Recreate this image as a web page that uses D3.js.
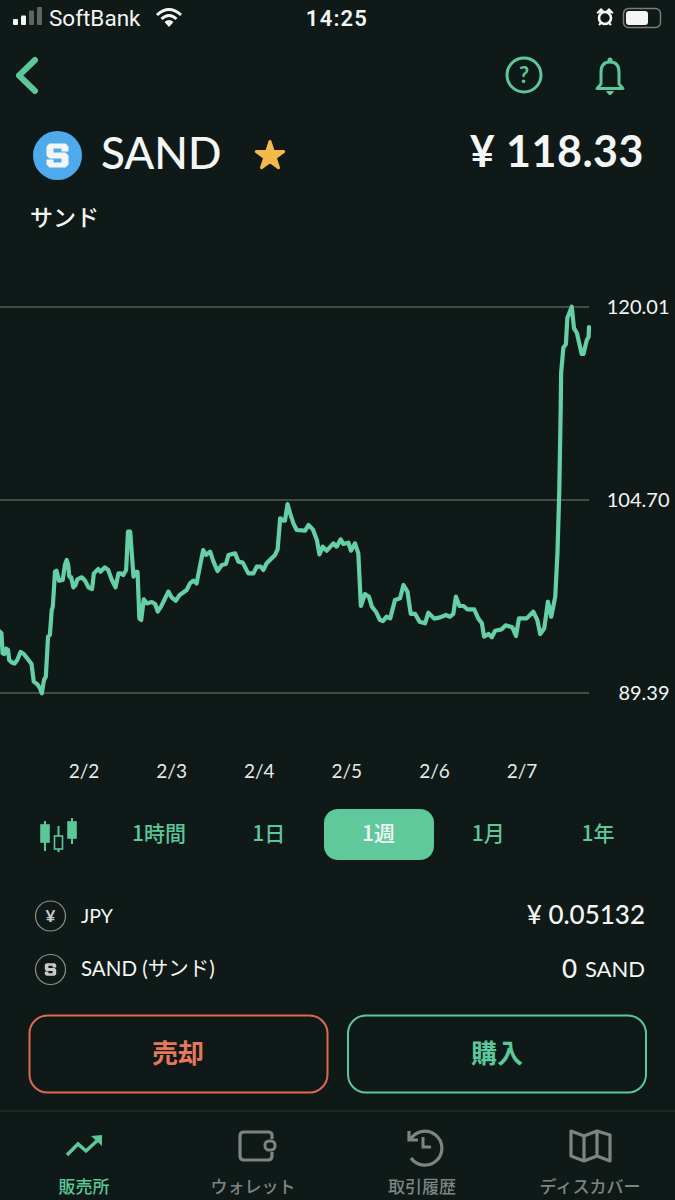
<!DOCTYPE html>
<html>
<head>
<meta charset="utf-8">
<script src="https://d3js.org/d3.v7.min.js"></script>
<style>
  html, body { margin: 0; padding: 0; background: #0f1917; }
  svg { display: block; }
  text { font-family: Lato, "Noto Sans CJK JP", sans-serif; }
  .jp { font-family: "Noto Sans CJK JP", sans-serif; }
</style>
</head>
<body>
<svg id="chart" width="675" height="1200"></svg>
<script>
// hours since 2/2 00:00
var hours = [-22.9,-22.5,-22.2,-21.7,-21.2,-20.7,-20.4,-19.6,-18.9,-18.2,-17.3,-16.4,-15.5,-14.3,-13.7,-12.7,-12.0,-11.5,-10.9,-10.4,
  -9.8,-9.3,-8.8,-8.5,-7.9,-7.5,-6.8,-5.8,-5.2,-4.7,-4.3,-4.0,-3.5,-2.9,-2.3,-1.8,-0.6,0.3,1.2,2.2,
  2.7,3.9,4.5,5.7,6.6,7.6,8.6,9.4,10.0,10.7,11.5,12.0,12.6,13.1,13.5,14.2,14.6,15.1,15.6,16.3,
  17.1,18.5,19.4,20.1,21.0,21.8,23.0,23.9,25.0,26.0,28.0,28.9,29.8,30.7,31.6,32.5,33.3,34.4,35.3,36.4,
  37.6,38.7,39.4,41.2,42.1,43.3,44.8,46.2,47.1,48.2,48.9,49.8,52.1,52.8,53.5,54.4,54.8,55.5,56.2,57.1,
  58.0,60.3,61.2,62.4,63.5,64.2,65.1,66.2,68.0,68.9,70.0,70.7,72.1,72.8,73.9,74.8,75.5,76.6,77.7,78.5,
  79.6,80.7,81.5,82.5,83.5,84.8,86.2,87.1,88.2,89.1,90.3,91.5,93.0,93.9,95.5,97.1,98.7,99.8,100.7,101.4,
  102.4,103.5,104.5,106.4,107.5,108.5,109.1,110.3,111.2,112.1,113.9,115.0,116.8,117.8,118.6,120.7,122.5,123.6,124.4,125.5,
  126.5,127.4,128.5,129.1,129.6,130.0,130.1,130.7,131.4,131.8,133.0,133.6,134.4,135.7,136.2,137.1,137.6,137.7];

var prices = [94.26,94.12,92.54,92.48,92.91,92.80,92.01,91.80,91.74,92.01,92.64,92.48,92.14,91.69,90.29,90.08,89.76,89.36,90.42,90.70,
  93.86,93.99,95.97,96.24,99.01,99.09,98.30,98.35,99.54,99.94,99.54,98.62,98.57,97.77,97.96,98.41,98.57,98.30,97.77,97.64,
  98.88,99.23,99.01,99.36,99.15,98.35,97.77,98.88,98.88,98.75,99.15,102.19,102.19,100.20,98.62,99.01,99.01,95.31,95.18,96.82,
  96.50,96.61,96.45,95.84,96.24,96.71,97.43,96.98,96.71,97.14,97.56,98.09,98.30,98.09,99.41,100.73,100.34,100.60,99.81,99.07,
  99.54,99.62,100.34,100.47,99.81,99.73,98.88,98.88,99.41,99.41,99.15,99.68,100.34,100.79,103.25,103.06,103.06,104.38,103.64,102.85,
  102.32,102.27,102.72,102.37,101.53,100.39,101.00,100.68,101.26,101.00,101.58,101.21,101.31,100.68,101.26,100.47,96.29,97.24,97.03,96.24,
  95.84,95.18,95.10,95.44,95.31,96.77,96.90,97.96,97.43,95.66,95.66,95.05,94.92,95.76,95.29,95.39,95.58,95.44,95.66,97.03,
  96.29,96.29,96.03,96.03,95.31,94.92,93.86,94.07,93.81,94.33,94.44,94.76,94.60,93.91,95.31,95.31,95.84,95.18,94.07,94.52,
  96.63,95.44,97.03,100.47,105.49,112.24,114.77,116.76,117.07,119.14,120.03,118.34,117.95,116.28,116.28,117.39,117.63,118.42];

var priceTicks = [120.01, 104.70, 89.39];
var dayHours = [0, 24, 48, 72, 96, 120];
var dayLabels = ['2/2', '2/3', '2/4', '2/5', '2/6', '2/7'];
var periods = ['1時間', '1日', '1週', '1月', '1年'];
var activePeriod = '1週';
var navLabels = ['販売所', 'ウォレット', '取引履歴', 'ディスカバー'];

var bg = '#0f1917';
var green = '#5cc89a';
var lineGreen = '#65d0a6';
var grey = '#7f8482';
var white = '#f4f6f5';

var svg = d3.select('#chart');

var x = d3.scaleLinear().domain([-22.9, 137.7]).range([0, 589]);
var y = d3.scaleLinear().domain([89.39, 120.01]).range([693, 307]);

function label(px, py, str, size, fill, anchor, weight, cls) {
  return svg.append('text')
    .attr('x', px).attr('y', py)
    .attr('font-size', size)
    .attr('fill', fill)
    .attr('text-anchor', anchor || 'start')
    .attr('font-weight', weight || 400)
    .attr('class', cls || null)
    .text(str);
}

// the blocky S of the coin logo, centred on cx,cy
function blockyS(cx, cy, k, fill) {
  svg.append('path')
    .attr('d', 'M-8 -12 L8 -12 L11 -9 L11 -4 L4 -4 L4 -7 L-4 -7 L-4 -3 L8 -3 L11 0 L11 9 L8 12 L-8 12 L-11 9 L-11 4 L-4 4 L-4 7 L4 7 L4 3 L-8 3 L-11 0 L-11 -9 Z')
    .attr('transform', 'translate(' + cx + ',' + cy + ') scale(' + k + ')')
    .attr('fill', fill);
}

// status bar
[[13,5],[21,8],[29,12],[37,15]].forEach(function(b, i) {
  svg.append('rect').attr('x', b[0]).attr('y', 25 - b[1] * 1.2).attr('width', 5).attr('height', b[1] * 1.2)
    .attr('rx', 1).attr('fill', i < 2 ? white : '#5e6462');
});
label(49, 26, 'SoftBank', 22.5, white).style('font-family', 'Roboto');
svg.append('g').attr('fill', 'none').attr('stroke', white).attr('stroke-width', 3)
  .selectAll('path').data(['M157 15 Q169 4 181 15', 'M161.5 19 Q169 12 176.5 19']).enter().append('path').attr('d', function(d) { return d; });
svg.append('path').attr('d', 'M164.5 22 Q169 18 173.5 22 L169 27 Z').attr('fill', white);
label(337, 26, '14:25', 22, white, 'middle', 600).style('font-family', 'Roboto').style('letter-spacing', '1.2px');
svg.append('circle').attr('cx', 605).attr('cy', 18).attr('r', 6).attr('fill', 'none').attr('stroke', white).attr('stroke-width', 2.6);
svg.append('path').attr('d', 'M597 13 L601 9 L603 11 Z M613 13 L609 9 L607 11 Z').attr('fill', white).attr('stroke', white).attr('stroke-width', 1.5);
svg.append('path').attr('d', 'M599 25 L601 23 M611 25 L609 23').attr('stroke', white).attr('stroke-width', 2);
svg.append('rect').attr('x', 623.5).attr('y', 8.5).attr('width', 37).attr('height', 19).attr('rx', 5).attr('fill', 'none').attr('stroke', '#7a7f7d').attr('stroke-width', 1.5);
svg.append('rect').attr('x', 626).attr('y', 11).attr('width', 22).attr('height', 14).attr('rx', 3).attr('fill', white);

// nav bar
svg.append('path').attr('d', 'M35 60 L19 75.5 L35 91').attr('fill', 'none').attr('stroke', green).attr('stroke-width', 6).attr('stroke-linecap', 'round').attr('stroke-linejoin', 'round');
svg.append('circle').attr('cx', 524).attr('cy', 75).attr('r', 17).attr('fill', 'none').attr('stroke', green).attr('stroke-width', 3);
label(524, 83, '?', 22, green, 'middle', 700);
svg.append('path').attr('d', 'M597 88.5 L601 84 L601 72 Q601 62 610 62 Q619 62 619 72 L619 84 L623 88.5 Z').attr('fill', 'none').attr('stroke', green).attr('stroke-width', 3).attr('stroke-linejoin', 'round');
svg.append('circle').attr('cx', 610).attr('cy', 60).attr('r', 2.5).attr('fill', green);
svg.append('path').attr('d', 'M606 91 L614 91 Q612 95 610 95 Q608 95 606 91 Z').attr('fill', green);

// coin header
svg.append('circle').attr('cx', 57.5).attr('cy', 155.5).attr('r', 24.5).attr('fill', '#4faaeb');
blockyS(57.5, 155.5, 1, white);
label(101, 169, 'SAND', 44, white, 'start', 500);
svg.append('path')
  .attr('d', d3.symbol().type(d3.symbolStar).size(235)())
  .attr('transform', 'translate(270,156)')
  .attr('fill', '#f5b94a').attr('stroke', '#f5b94a').attr('stroke-width', 3).attr('stroke-linejoin', 'round');
label(644, 167, '¥ 118.33', 43, white, 'end', 700).style('letter-spacing', '0.5px');
label(30, 226, 'サンド', 23, white, 'start', 500, 'jp');

// grid lines and price labels
svg.append('g').selectAll('line').data(priceTicks).enter().append('line')
  .attr('x1', 0).attr('x2', x(137.7))
  .attr('y1', function(d) { return y(d); }).attr('y2', function(d) { return y(d); })
  .attr('stroke', '#565b59').attr('stroke-width', 1.3);

priceTicks.forEach(function(d) {
  label(669.5, y(d) + 7, d.toFixed(2), 20, white, 'end');
});

// price line
var line = d3.line()
  .x(function(d) { return x(d[0]); })
  .y(function(d) { return y(d[1]); });

svg.append('path')
  .datum(d3.zip(hours, prices))
  .attr('d', line)
  .attr('fill', 'none')
  .attr('stroke', lineGreen)
  .attr('stroke-width', 4.2)
  .attr('stroke-linejoin', 'round')
  .attr('stroke-linecap', 'round');

dayHours.forEach(function(h, i) {
  label(x(h) - (i * 0.4), 778, dayLabels[i], 19, '#e8eaea', 'middle');
});

// period tabs
var periodX = d3.scalePoint().domain(periods).range([159, 598]);
svg.append('rect').attr('x', 324).attr('y', 809).attr('width', 110).attr('height', 51).attr('rx', 14).attr('fill', '#5fc99c');
periods.forEach(function(p) {
  label(periodX(p), 841, p, 21, p === activePeriod ? white : green, 'middle', 500, 'jp');
});

// candle icon
[[45, 821, 851, 825, 842, true], [58.5, 826, 852, 836, 849, false], [72, 818, 844, 822, 838, true]].forEach(function(c) {
  svg.append('line').attr('x1', c[0]).attr('x2', c[0]).attr('y1', c[1]).attr('y2', c[2]).attr('stroke', green).attr('stroke-width', 2);
  svg.append('rect').attr('x', c[0] - 4).attr('y', c[3]).attr('width', 8).attr('height', c[4] - c[3])
    .attr('fill', c[5] ? green : bg).attr('stroke', green).attr('stroke-width', 1.6);
});

// balances
svg.selectAll('circle.coin').data([916, 969.5]).enter().append('circle').attr('class', 'coin')
  .attr('cx', 50.5).attr('cy', function(d) { return d; }).attr('r', 15)
  .attr('fill', 'none').attr('stroke', '#8b908e').attr('stroke-width', 1.2);
label(50.5, 922, '¥', 17, '#c9cccb', 'middle', 700);
blockyS(50.5, 969.5, 0.52, '#c9cccb');
label(81, 923, 'JPY', 19.5, white);
label(81, 976, 'SAND (サンド)', 20.5, white);
label(645, 924, '¥ 0.05132', 26, white, 'end', 500);
label(645, 977, 'SAND', 22, white, 'end');
label(577, 978, '0', 26, white, 'end', 500);

// buttons
svg.append('rect').attr('x', 29.5).attr('y', 1015.5).attr('width', 298).attr('height', 77).attr('rx', 18).attr('fill', 'none').attr('stroke', '#df6a50').attr('stroke-width', 2);
svg.append('rect').attr('x', 348).attr('y', 1015.5).attr('width', 298).attr('height', 77).attr('rx', 18).attr('fill', 'none').attr('stroke', green).attr('stroke-width', 2);
label(178, 1063, '売却', 26, '#e5775c', 'middle', 700, 'jp');
label(497, 1063, '購入', 26, green, 'middle', 700, 'jp');

// bottom navigation
svg.append('line').attr('x1', 0).attr('x2', 675).attr('y1', 1111).attr('y2', 1111).attr('stroke', '#2d3633').attr('stroke-width', 1);
var navX = [84, 253, 422, 590];
navLabels.forEach(function(n, i) {
  label(navX[i], 1193, n, 17, i === 0 ? green : grey, 'middle', 500, 'jp');
});
svg.append('path').attr('d', 'M67 1155 L78 1144 L86 1151 L100 1138').attr('fill', 'none').attr('stroke', green).attr('stroke-width', 3.5);
svg.append('path').attr('d', 'M91 1136 L102 1135 L102 1146 Z').attr('fill', green);
svg.append('path').attr('d', 'M272 1139 L272 1135 Q272 1132 268 1132 L244 1132 Q240 1132 240 1136 L240 1156 Q240 1160 244 1160 L268 1160 Q272 1160 272 1156 L272 1152').attr('fill', 'none').attr('stroke', grey).attr('stroke-width', 3.2);
svg.append('rect').attr('x', 265).attr('y', 1141).attr('width', 10).attr('height', 9).attr('rx', 4).attr('fill', 'none').attr('stroke', grey).attr('stroke-width', 3);
svg.append('path').attr('d', 'M409 1131 L409 1140 L418 1140 M410 1140 A 17 17 0 1 1 411 1158').attr('fill', 'none').attr('stroke', grey).attr('stroke-width', 3.2);
svg.append('path').attr('d', 'M423 1137 L423 1147 L431 1147').attr('fill', 'none').attr('stroke', grey).attr('stroke-width', 3);
svg.append('path').attr('d', 'M571 1131 L584 1136 L597 1131 L610 1135 L610 1161 L597 1156 L584 1161 L571 1156 Z M584 1136 L584 1161 M597 1131 L597 1156').attr('fill', 'none').attr('stroke', grey).attr('stroke-width', 3.2).attr('stroke-linejoin', 'round');
</script>
</body>
</html>
